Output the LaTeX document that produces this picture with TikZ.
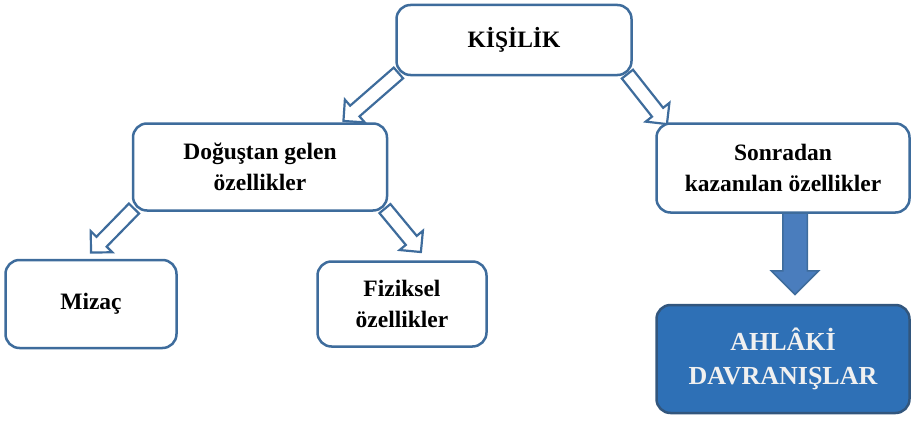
\documentclass[tikz,border=0pt]{standalone}
\usepackage{fontspec}
\setmainfont{Liberation Serif}
\usetikzlibrary{shapes.arrows}
\usetikzlibrary{calc,backgrounds}
\definecolor{boxblue}{HTML}{3E6C9C}
\definecolor{fillblue}{HTML}{2E70B6}
\definecolor{arrowblue}{HTML}{4A7DBD}
\tikzset{
  box/.style={draw=boxblue,line width=2.5pt,rounded corners=14pt,fill=white,align=center,
    font=\bfseries\fontsize{23.5}{31}\selectfont,text=black},
  hollowarrow/.style={single arrow,draw=boxblue,fill=white,line width=2.2pt,inner xsep=0pt,
    inner ysep=6pt,single arrow head extend=8pt,single arrow head indent=0pt,
    sloped,allow upside down,pos=0,anchor=tail},
  solidarrow/.style={single arrow,draw=boxblue,fill=arrowblue,line width=1.5pt,inner xsep=0pt,
    inner ysep=11.5pt,single arrow head extend=11.5pt,single arrow head indent=0pt,
    sloped,allow upside down,pos=0,anchor=tail}
}

\begin{document}
\begin{tikzpicture}[x=1pt,y=-1pt]
\useasboundingbox (0,0) rectangle (912,420);
\node[box,minimum width=235pt,minimum height=70pt] (kisilik) at (514,40) {KİŞİLİK};
\node[box,minimum width=254pt,minimum height=87pt] (dogustan) at (260,167) {Doğuştan gelen\\özellikler};
\node[box,minimum width=253pt,minimum height=89pt] (sonradan) at (783,168) {Sonradan\\kazanılan özellikler};
\node[box,minimum width=171pt,minimum height=88pt] (mizac) at (91,304) {Mizaç};
\node[box,minimum width=169pt,minimum height=85pt] (fiziksel) at (402,304) {Fiziksel\\özellikler};
\node[box,minimum width=253pt,minimum height=108pt,fill=fillblue,draw=boxblue!80!black,
  text=white!88!gray,font=\bfseries\fontsize{26}{34}\selectfont] (ahlaki) at (783,359) {AHLÂKİ\\DAVRANIŞLAR};

\begin{scope}[on background layer]
\path let \p1=($(kisilik.south west)+(4,-4)$), \p2=($(dogustan.north east)+(-44,-2)$),
  \n1={veclen(\x2-\x1,\y2-\y1)} in (\p1) -- (\p2) node[hollowarrow,minimum height=\n1] (a1) {};
\path let \p1=($(kisilik.south east)+(-6,-3)$), \p2=($(sonradan.north west)+(11,1)$),
  \n1={veclen(\x2-\x1,\y2-\y1)} in (\p1) -- (\p2) node[hollowarrow,minimum height=\n1] (a2) {};
\path let \p1=($(dogustan.south west)+(3,-4)$), \p2=($(mizac.north east)+(-86,-7)$),
  \n1={veclen(\x2-\x1,\y2-\y1)} in (\p1) -- (\p2) node[hollowarrow,minimum height=\n1] (a3) {};
\path let \p1=($(dogustan.south east)+(-4,-4)$), \p2=($(fiziksel.north west)+(104,-9)$),
  \n1={veclen(\x2-\x1,\y2-\y1)} in (\p1) -- (\p2) node[hollowarrow,minimum height=\n1] (a4) {};
\path let \p1=($(sonradan.south)+(12,-2)$), \p2=($(ahlaki.north)+(12,-10)$),
  \n1={veclen(\x2-\x1,\y2-\y1)} in (\p1) -- (\p2) node[solidarrow,minimum height=\n1] (a5) {};
\end{scope}

\end{tikzpicture}
\end{document}
